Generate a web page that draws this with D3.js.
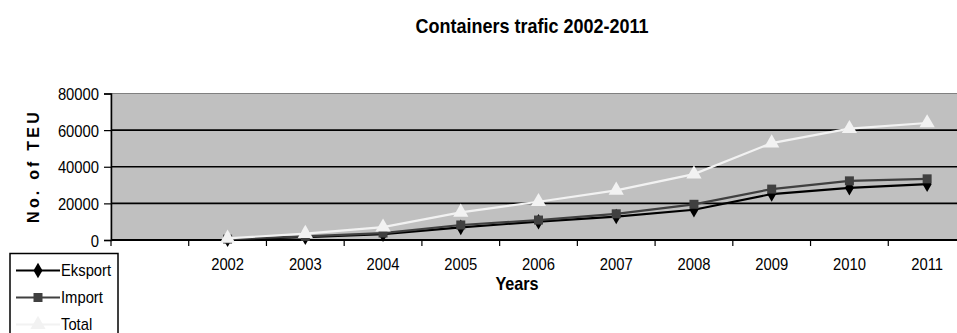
<!DOCTYPE html>
<html>
<head>
<meta charset="utf-8">
<script src="https://cdn.jsdelivr.net/npm/d3@7"></script>
<style>
  html, body { margin: 0; padding: 0; background: #fff; }
  svg { display: block; font-family: "Liberation Sans", Arial, sans-serif; }
</style>
</head>
<body>
<svg id="chart" width="957" height="333"></svg>
<script>
// Container traffic, TEU per year
const years   = ["2002", "2003", "2004", "2005", "2006", "2007", "2008", "2009", "2010", "2011"];
const eksport = [400, 1500, 3200, 6900, 10000, 12800, 16500, 25100, 28500, 30500];
const importV = [500, 2000, 3800, 8200, 10900, 14300, 19500, 27800, 32300, 33400];
const total   = [900, 3500, 7000, 15100, 20900, 27100, 36000, 52900, 60800, 63900];
const yTicks  = [0, 20000, 40000, 60000, 80000];

const seriesList = [
  { name: "Eksport", values: eksport, color: "#000000", marker: "diamond" },
  { name: "Import",  values: importV, color: "#404040", marker: "square" },
  { name: "Total",   values: total,   color: "#f2f2f2", marker: "triangle" }
];

const svg = d3.select("#chart");
const plot = { left: 111, right: 966, top: 93.5, bottom: 240 };
const squeeze = 0.87;   // narrow letterforms for all chart text

// a leading empty slot keeps the first year one category in from the axis
const slots = [""].concat(years);
const x = d3.scaleBand().domain(slots).range([plot.left, plot.right]);
const y = d3.scaleLinear().domain([0, 80000]).range([plot.bottom, plot.top]);
const cx = d => x(d) + x.bandwidth() / 2;

// condensed text helper
function label(parent, px, py, str, opts = {}) {
  const t = parent.append("text")
    .attr("transform", `translate(${px},${py}) scale(${opts.sx || squeeze},1)`)
    .attr("text-anchor", opts.anchor || "start")
    .attr("font-size", opts.size || 17)
    .text(str);
  if (opts.bold) t.attr("font-weight", "bold");
  return t;
}

// title
label(svg, 532, 33, "Containers trafic 2002-2011", { anchor: "middle", size: 20, bold: true, sx: 0.9 });

// plot area
svg.append("rect")
  .attr("x", plot.left).attr("y", plot.top)
  .attr("width", plot.right - plot.left).attr("height", plot.bottom - plot.top)
  .attr("fill", "#c0c0c0").attr("stroke", "#808080").attr("stroke-width", 1);

// horizontal gridlines
svg.append("g").selectAll("line")
  .data(yTicks.filter(t => t > 0 && t < 80000))
  .join("line")
  .attr("x1", plot.left).attr("x2", plot.right)
  .attr("y1", d => y(d)).attr("y2", d => y(d))
  .attr("stroke", "#000").attr("stroke-width", 1.6);

// y axis
const yAxis = svg.append("g")
  .attr("transform", `translate(${plot.left},0)`)
  .call(d3.axisLeft(y).tickValues(yTicks).tickFormat(d3.format("d")).tickSize(7).tickPadding(4));
yAxis.select(".domain").attr("stroke", "#000").attr("stroke-width", 1.5);
yAxis.selectAll(".tick line").attr("stroke", "#000").attr("stroke-width", 1.2);
yAxis.selectAll(".tick text")
  .attr("font-family", "'Liberation Sans', Arial, sans-serif")
  .attr("font-size", 17).attr("fill", "#000").attr("dy", "0.36em")
  .attr("x", -12 / squeeze)
  .attr("transform", `scale(${squeeze},1)`);

// x axis: ticks on category boundaries, labels centred in each category
const xAxisG = svg.append("g");
xAxisG.append("line")
  .attr("x1", plot.left).attr("x2", plot.right)
  .attr("y1", plot.bottom).attr("y2", plot.bottom)
  .attr("stroke", "#000").attr("stroke-width", 2.2);
xAxisG.selectAll("line.tick")
  .data(slots)
  .join("line").attr("class", "tick")
  .attr("x1", d => x(d)).attr("x2", d => x(d))
  .attr("y1", plot.bottom).attr("y2", plot.bottom + 6)
  .attr("stroke", "#000").attr("stroke-width", 1.2);
years.forEach(yr => label(xAxisG, cx(yr), 270, yr, { anchor: "middle" }));

// axis titles
label(svg, 517, 290, "Years", { anchor: "middle", size: 18, bold: true, sx: 0.9 });
svg.append("text")
  .attr("transform", "translate(39,166) rotate(-90)")
  .attr("text-anchor", "middle")
  .attr("font-weight", "bold").attr("font-size", 16)
  .attr("letter-spacing", 3.2)
  .text("No. of TEU");

// marker shapes
const symbolFor = m => ({
  diamond:  d3.symbol().type(d3.symbolDiamond).size(70),
  square:   d3.symbol().type(d3.symbolSquare).size(81),
  triangle: d3.symbol().type(d3.symbolTriangle).size(100)
}[m]);

const line = d3.line().x(d => cx(d.year)).y(d => y(d.value));

seriesList.forEach(s => {
  const pts = years.map((yr, i) => ({ year: yr, value: s.values[i] }));
  const g = svg.append("g");
  g.append("path")
    .datum(pts)
    .attr("d", line)
    .attr("fill", "none")
    .attr("stroke", s.color).attr("stroke-width", 2.2);
  g.selectAll("path.mk")
    .data(pts)
    .join("path").attr("class", "mk")
    .attr("transform", d => `translate(${cx(d.year)},${y(d.value)})`)
    .attr("d", symbolFor(s.marker)())
    .attr("fill", s.color);
});

// legend
const lg = svg.append("g");
lg.append("rect")
  .attr("x", 10).attr("y", 253.5)
  .attr("width", 108).attr("height", 100)
  .attr("fill", "#fff").attr("stroke", "#000").attr("stroke-width", 1.5);
seriesList.forEach((s, i) => {
  const ly = 270.5 + i * 27;
  lg.append("line")
    .attr("x1", 16).attr("x2", 60).attr("y1", ly).attr("y2", ly)
    .attr("stroke", s.color).attr("stroke-width", 2);
  lg.append("path")
    .attr("transform", `translate(38,${ly})`)
    .attr("d", symbolFor(s.marker)())
    .attr("fill", s.color);
  label(lg, 61, ly + 5.5, s.name);
});
</script>
</body>
</html>
